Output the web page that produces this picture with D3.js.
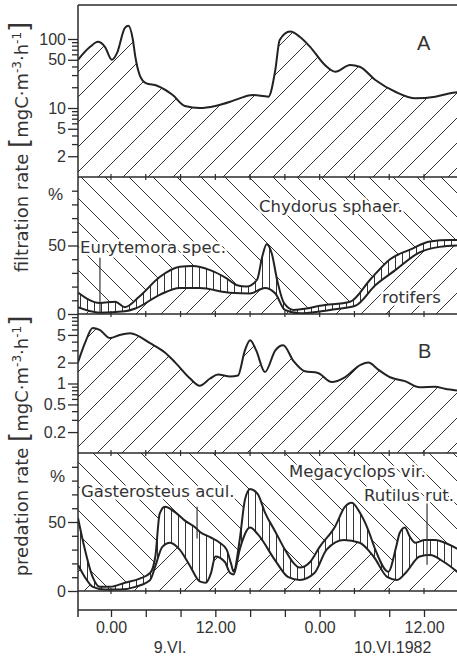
<!DOCTYPE html>
<html>
<head>
<script src="https://cdnjs.cloudflare.com/ajax/libs/d3/7.8.5/d3.min.js"></script>
<style>
    body { margin: 0; background: #fff; }
    svg { display: block; }
    .tick text { font-family: "Liberation Sans", Arial, sans-serif; font-size: 16px; fill: #333; }
    .tick line { stroke: #2a2a2a; stroke-width: 1.3; }
    .curve { fill: none; stroke: #222; stroke-width: 2; stroke-linejoin: round; }
    .frame { stroke: #2a2a2a; stroke-width: 1.5; fill: none; }
    .label {
        font-family: "DejaVu Sans", sans-serif; font-size: 16.5px; fill: #333;
        stroke: #fff; stroke-width: 5px; paint-order: stroke; stroke-linejoin: round;
    }
    .panel-id { font-family: "Liberation Sans", Arial, sans-serif; font-size: 20px; fill: #333; }
    .ytitle { font-family: "DejaVu Sans", sans-serif; font-size: 18px; fill: #333; }
    .ytitle .br { font-size: 26px; }
    .ytitle .sup { font-size: 12px; }
    .pct { font-family: "Liberation Sans", Arial, sans-serif; font-size: 17px; fill: #333; }
</style>
</head>
<body>
<svg id="chart" width="457" height="661"></svg>
<script>
// hours since 0.00 on 9.VI, value
const filtrationTotal = [[-3.8,50],[-2.4,77],[-1.5,91],[-0.7,77],[0.1,50],[0.7,63],[1.6,145],[2.0,155],[2.5,100],[2.8,55],[3.3,30],[4.0,23],[5.3,21],[7.1,15.4],[8.5,10.7],[10.2,10],[12.0,10.7],[13.7,12.3],[14.8,13.8],[16.3,15.4],[18.1,14.6],[18.9,35.6],[19.4,97],[20.6,128],[21.7,108],[22.9,77],[24.6,42],[25.8,33.6],[27.5,42],[28.6,39.6],[30.4,25.5],[32.7,17.2],[35.0,13.8],[37.3,14.6],[39.0,16.4],[40,17]];

// filtration shares, % (upper = rotifers + Eurytemora, lower = rotifers)
const filtrationUpper = [[-3.8,15.7],[-1.3,8],[0.5,9],[1.6,5],[3.3,13],[5.6,27],[7.9,34.5],[9.4,35],[11.4,32],[13.3,26],[14.5,21],[15.6,20],[16.8,25],[17.4,42],[17.9,51],[18.5,44],[19.1,25],[19.9,8],[21.0,3],[22.5,4],[24.0,6],[27.5,9],[29.8,25],[32.1,40],[34.4,47],[36.7,53],[39.0,54],[40,54]];
const filtrationLower = [[-3.8,5],[-1.3,1],[1.6,2],[2.8,4],[5.6,14],[7.9,19],[10.2,19],[13.7,15.5],[16.0,15],[17.7,19],[18.9,15],[20.0,3],[21.7,0.5],[25.2,3],[28.1,6],[30.4,21],[32.7,32],[35.5,45],[37.8,49],[40,50]];

const predationTotal = [[-3.8,2.0],[-3.0,3.8],[-2.1,6.3],[-1.3,5.9],[-0.1,4.5],[1.0,5.0],[2.2,5.3],[4.5,3.8],[6.2,2.8],[7.4,2.0],[9.1,1.18],[10.2,0.93],[11.4,1.18],[12.3,1.35],[13.7,1.26],[14.6,1.3],[15.4,3.0],[16.0,4.2],[16.7,3.0],[17.7,1.46],[18.9,3.0],[19.8,3.55],[21.0,2.1],[22.3,1.5],[23.8,1.42],[25.4,1.05],[26.9,1.23],[28.7,1.85],[29.6,2.0],[30.7,1.6],[32.1,1.23],[33.8,1.08],[35.5,0.88],[37.3,0.9],[38.4,0.84],[40,0.79]];

// predation shares, % (upper = Rutilus + Gasterosteus, lower = Rutilus)
const predationUpper = [[-3.8,53],[-3.0,30],[-2.1,10],[-1.3,3],[-0.1,3],[1.6,6],[3.3,9],[4.5,13],[5.1,25],[5.6,56],[6.2,61],[7.4,57],[8.5,51],[9.7,46],[10.2,43],[11.4,39],[12.5,35],[13.3,30],[13.8,20],[14.1,14],[14.8,37],[15.4,66],[16.0,74],[16.9,70],[17.7,57],[18.9,43],[20.0,30],[20.9,21],[21.7,17],[22.9,21],[24.0,32],[25.8,47],[26.9,61],[27.7,64],[28.6,57],[29.6,44],[30.4,30],[31.9,14],[32.8,32],[33.2,42],[33.8,46],[34.4,39],[35.0,35],[36.1,37],[37.3,37],[38.4,35],[40,30]];
const predationLower = [[-3.8,19],[-3.0,10],[-2.1,3],[-0.7,1],[1.0,1],[2.8,3],[4.5,8],[5.1,18],[5.9,32],[6.8,35],[7.9,30],[9.1,18],[10.2,7],[10.9,6],[11.5,13],[12.0,25],[13.1,21],[13.7,13],[14.1,12],[14.8,30],[16.0,46],[16.9,41],[18.9,22],[20.4,10],[21.7,8],[23.4,13],[24.8,30],[26.8,37],[28.6,35],[30.2,25],[31.8,10],[32.9,8],[34.0,14],[35.5,25],[36.7,26],[38.3,21],[40,13]];

// axis ticks
const xTicks = [0,4,8,12,16,20,24,28,32,36,40];
const xLabelHours = [0,12,24,36];
const xLabelText = ["0.00","12.00","0.00","12.00"];
const logTicksA = [2,3,4,5,6,7,8,9,10,20,30,40,50,60,70,80,90,100];
const logLabelsA = [100,50,10,5,2];
const logTicksB = [0.2,0.3,0.4,0.5,0.6,0.7,0.8,0.9,1,2,3,4,5,6,7,8,9];
const logLabelsB = [5,2,1,0.5,0.2];
const pctTicks = [0,10,20,30,40,50,60,70,80,90];
const pctLabels = [0,50];

const svg = d3.select("#chart");
const boxLeft = 78, boxRight = 459, boxTop = 5, boxBottom = 610;

const x = d3.scaleLinear().domain([0, 36]).range([111, 424]);
const yA = d3.scaleLog().domain([1, 100]).range([177, 39]);
const yAp = d3.scaleLinear().domain([0, 100]).range([314, 177]);
const yB = d3.scaleLog().domain([0.1, 10]).range([453, 314]);
const yBp = d3.scaleLinear().domain([0, 100]).range([591, 453]);

const defs = svg.append("defs");

function hatch(id, w, h, d) {
    defs.append("pattern")
        .attr("id", id)
        .attr("patternUnits", "userSpaceOnUse")
        .attr("width", w)
        .attr("height", h)
        .append("path")
        .attr("d", d)
        .attr("stroke", "#333")
        .attr("stroke-width", 1)
        .attr("fill", "none");
}
hatch("fwd", 25, 25, "M-3,3 L3,-3 M0,25 L25,0 M22,28 L28,22");
hatch("back", 24, 24, "M-3,21 L3,27 M0,0 L24,24 M21,-3 L27,3");
hatch("vert", 7, 10, "M3.5,0 V10");

function clip(id, y0, y1) {
    defs.append("clipPath").attr("id", id)
        .append("rect").attr("x", boxLeft).attr("y", y0)
        .attr("width", boxRight - boxLeft).attr("height", y1 - y0);
}
clip("cA", 5, 177);
clip("cAp", 177, 314);
clip("cB", 314, 453);
clip("cBp", 453, 591);

const curve = d3.curveMonotoneX;

function drawLog(series, y, base, clipId) {
    const g = svg.append("g").attr("clip-path", `url(#${clipId})`);
    const area = d3.area().x(d => x(d[0])).y0(base).y1(d => y(d[1])).curve(curve);
    const line = d3.line().x(d => x(d[0])).y(d => y(d[1])).curve(curve);
    g.append("path").datum(series).attr("d", area).attr("fill", "url(#fwd)");
    g.append("path").datum(series).attr("d", line).attr("class", "curve");
}

function drawPct(upper, lower, y, clipId) {
    const g = svg.append("g").attr("clip-path", `url(#${clipId})`);
    g.append("rect").attr("x", boxLeft).attr("y", y(100))
        .attr("width", boxRight - boxLeft).attr("height", y(0) - y(100))
        .attr("fill", "url(#back)");
    const area = d3.area().x(d => x(d[0])).y0(y(0)).y1(d => y(d[1])).curve(curve);
    const line = d3.line().x(d => x(d[0])).y(d => y(d[1])).curve(curve);
    g.append("path").datum(upper).attr("d", area).attr("fill", "#fff");
    g.append("path").datum(upper).attr("d", area).attr("fill", "url(#vert)");
    g.append("path").datum(lower).attr("d", area).attr("fill", "#fff");
    g.append("path").datum(lower).attr("d", area).attr("fill", "url(#fwd)");
    g.append("path").datum(upper).attr("d", line).attr("class", "curve");
    g.append("path").datum(lower).attr("d", line).attr("class", "curve");
}

drawLog(filtrationTotal, yA, 177, "cA");
drawPct(filtrationUpper, filtrationLower, yAp, "cAp");
drawLog(predationTotal, yB, 453, "cB");
drawPct(predationUpper, predationLower, yBp, "cBp");

// labels inside panels
function label(txt, lx, ly) {
    svg.append("text").attr("class", "label").attr("x", lx).attr("y", ly).text(txt);
}
function pointer(h, p0, p1, y) {
    svg.append("line")
        .attr("x1", x(h)).attr("x2", x(h))
        .attr("y1", y(p0)).attr("y2", y(p1))
        .attr("stroke", "#333").attr("stroke-width", 1.2);
}
pointer(-1.27, 41, 1, yAp);
pointer(9.9, 61, 38, yBp);
pointer(36.35, 64, 19, yBp);

label("Chydorus sphaer.", 259, 212);
label("Eurytemora spec.", 80, 253);
label("rotifers", 382, 303);
label("Megacyclops vir.", 289, 477);
label("Rutilus rut.", 364, 501);
label("Gasterosteus acul.", 81, 497);

svg.append("text").attr("class", "panel-id").attr("x", 417).attr("y", 50).text("A");
svg.append("text").attr("class", "panel-id").attr("x", 418).attr("y", 358).text("B");

// y axes
function yAxis(scale, ticks, labels, fmt) {
    const g = svg.append("g").attr("transform", `translate(${boxLeft},0)`)
        .call(d3.axisLeft(scale).tickValues(ticks)
            .tickFormat(d => labels.includes(d) ? fmt(d) : "")
            .tickSize(6));
    g.select(".domain").remove();
    g.selectAll(".tick line").attr("x2", d => labels.includes(d) ? -10 : -6);
    g.selectAll(".tick text").attr("x", -12);
}
yAxis(yA, logTicksA, logLabelsA, d => String(d));
yAxis(yAp, pctTicks, pctLabels, d => String(d));
yAxis(yB, logTicksB, logLabelsB, d => String(d));
yAxis(yBp, pctTicks, pctLabels, d => String(d));

svg.append("text").attr("class", "pct").attr("x", 63).attr("y", 200).attr("text-anchor", "end").text("%");
svg.append("text").attr("class", "pct").attr("x", 65).attr("y", 482).attr("text-anchor", "end").text("%");

// x axis
const xg = svg.append("g").attr("transform", `translate(0,${boxBottom})`)
    .call(d3.axisBottom(x).tickValues(xTicks).tickSize(7)
        .tickFormat(d => {
            const i = xLabelHours.indexOf(d);
            return i >= 0 ? xLabelText[i] : "";
        }));
xg.select(".domain").remove();
xg.selectAll(".tick text").attr("y", 23).attr("dy", 0);

svg.append("text").attr("class", "pct").attr("x", x(6.8)).attr("y", 653)
    .attr("text-anchor", "middle").style("font-size", "16px").text("9.VI.");
svg.append("text").attr("class", "pct").attr("x", x(32.4)).attr("y", 653)
    .attr("text-anchor", "middle").style("font-size", "16px").text("10.VI.1982");

// frame and dividers
[boxTop, 177, 314, 453, 591, boxBottom].forEach(yy => {
    svg.append("line").attr("class", "frame")
        .attr("x1", boxLeft).attr("x2", boxRight).attr("y1", yy).attr("y2", yy);
});
svg.append("line").attr("class", "frame")
    .attr("x1", boxLeft).attr("x2", boxLeft).attr("y1", boxTop).attr("y2", boxBottom + 7);

// small time ticks on the inner lines
[177, 314, 453, 591].forEach(yy => {
    svg.append("g").selectAll("line").data(xTicks).join("line")
        .attr("x1", d => x(d)).attr("x2", d => x(d))
        .attr("y1", yy - 3).attr("y2", yy + 3)
        .attr("stroke", "#2a2a2a").attr("stroke-width", 1.2);
});

// rotated axis titles
function yTitle(name, cy) {
    const t = svg.append("text").attr("class", "ytitle")
        .attr("transform", `translate(28,${cy}) rotate(-90)`)
        .attr("text-anchor", "middle");
    t.append("tspan").text(name + " ");
    t.append("tspan").attr("class", "br").text("[");
    t.append("tspan").text("mgC·m");
    t.append("tspan").attr("class", "sup").attr("dy", -7).text("-3");
    t.append("tspan").attr("dy", 7).text("·h");
    t.append("tspan").attr("class", "sup").attr("dy", -7).text("-1");
    t.append("tspan").attr("class", "br").attr("dy", 7).text("]");
}
yTitle("filtration rate", 147);
yTitle("predation rate", 446);
</script>
</body>
</html>
